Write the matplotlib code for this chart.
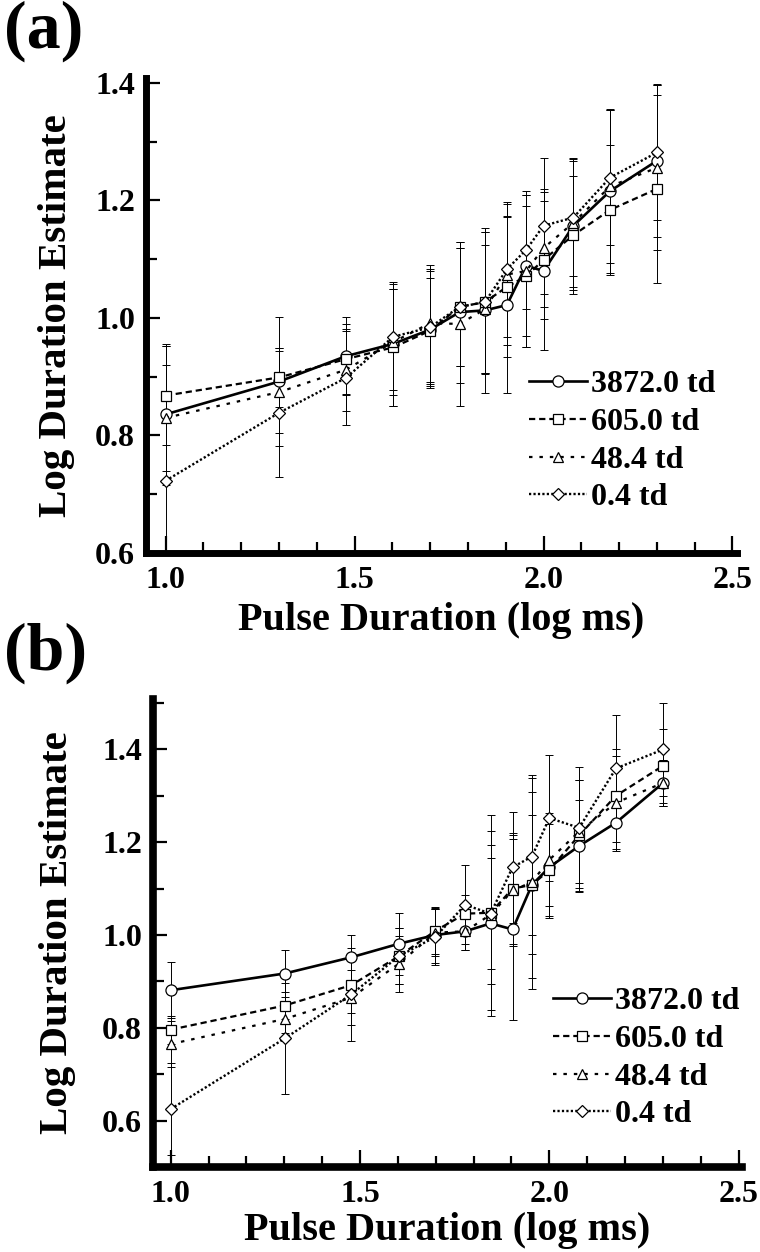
import matplotlib
matplotlib.use("Agg")
import matplotlib.pyplot as plt
from matplotlib.ticker import MultipleLocator, FixedLocator, FormatStrFormatter

# ---------------- data ----------------
x_logms = [1.0, 1.301, 1.477, 1.602, 1.699, 1.778, 1.845, 1.903, 1.954, 2.0, 2.079, 2.176, 2.301]
series_labels = ["3872.0 td", "605.0 td", "48.4 td", "0.4 td"]

# Panel (a)
a_3872 = [0.836, 0.892, 0.935, 0.956, 0.980, 1.010, 1.013, 1.022, 1.089, 1.080, 1.157, 1.216, 1.268]
a_605 = [0.868, 0.899, 0.930, 0.950, 0.978, 1.019, 1.027, 1.053, 1.071, 1.099, 1.141, 1.184, 1.220]
a_48 = [0.830, 0.874, 0.912, 0.959, 0.991, 0.990, 1.015, 1.074, 1.080, 1.119, 1.162, 1.224, 1.256]
a_04 = [0.723, 0.839, 0.898, 0.968, 0.984, 1.019, 1.027, 1.083, 1.116, 1.157, 1.171, 1.239, 1.282]
a_err_3872 = [0.12, 0.11, 0.066, 0.105, 0.10, 0.12, 0.14, 0.15, 0.12, 0.135, 0.11, 0.14, 0.13]
a_err_605 = [0.085, 0.05, 0.06, 0.10, 0.09, 0.10, 0.12, 0.12, 0.12, 0.10, 0.10, 0.11, 0.16]
a_err_48 = [0.09, 0.07, 0.07, 0.09, 0.10, 0.14, 0.11, 0.12, 0.13, 0.10, 0.11, 0.13, 0.14]
a_err_04 = [0.23, 0.11, 0.08, 0.09, 0.10, 0.10, 0.12, 0.115, 0.10, 0.116, 0.10, 0.115, 0.115]

# Panel (b)
b_3872 = [0.881, 0.917, 0.952, 0.981, 1.000, 1.008, 1.025, 1.012, 1.108, 1.146, 1.192, 1.242, 1.328]
b_605 = [0.796, 0.848, 0.892, 0.954, 1.009, 1.046, 1.048, 1.100, 1.108, 1.140, 1.215, 1.300, 1.365]
b_48 = [0.765, 0.819, 0.865, 0.938, 1.005, 1.008, 1.044, 1.096, 1.114, 1.162, 1.223, 1.285, 1.328]
b_04 = [0.625, 0.777, 0.872, 0.954, 0.996, 1.065, 1.046, 1.146, 1.169, 1.252, 1.231, 1.359, 1.400]
b_err_3872 = [0.06, 0.05, 0.048, 0.067, 0.06, 0.04, 0.20, 0.195, 0.20, 0.11, 0.10, 0.06, 0.05]
b_err_605 = [0.03, 0.03, 0.06, 0.06, 0.05, 0.04, 0.21, 0.12, 0.15, 0.10, 0.12, 0.10, 0.08]
b_err_48 = [0.05, 0.03, 0.06, 0.06, 0.05, 0.04, 0.15, 0.12, 0.23, 0.10, 0.11, 0.10, 0.05]
b_err_04 = [0.10, 0.12, 0.10, 0.06, 0.06, 0.085, 0.12, 0.12, 0.17, 0.136, 0.13, 0.115, 0.10]

# ---------------- style ----------------
plt.rcParams['font.family'] = ['Liberation Serif', 'DejaVu Serif']
plt.rcParams['font.weight'] = 'bold'
plt.rcParams['lines.scale_dashes'] = False

W, H = 760, 1252
fig = plt.figure(figsize=(W / 100, H / 100), dpi=100)

styles = [
    dict(marker='o', ms=8.0, ls='-', lw=1.9),
    dict(marker='s', ms=7.0, ls=(0, (4.5, 2.8)), lw=1.6),
    dict(marker='^', ms=7.5, ls=(0, (2.5, 5.0)), lw=1.6),
    dict(marker='D', ms=5.8, ls=(0, (1.6, 1.6)), lw=1.7),
]


def px_axes(l, t, r, b):
    return fig.add_axes([l / W, 1 - b / H, (r - l) / W, (b - t) / H])


def draw_panel(ax, ys, errs, ylim, xlim, legend_xy, letter, letter_xy, ylab_x, xlab_y, spine_w):
    for y, e in zip(ys, errs):
        ax.errorbar(x_logms, y, yerr=e, fmt='none', ecolor='black', elinewidth=0.7,
                    capsize=3, capthick=0.7, zorder=1)
    handles = []
    for y, st, lab in zip(ys, styles, series_labels):
        h, = ax.plot(x_logms, y, color='black', linestyle=st['ls'], linewidth=st['lw'],
                     marker=st['marker'], markersize=st['ms'], markerfacecolor='white',
                     markeredgecolor='black', markeredgewidth=0.9, label=lab, zorder=3)
        handles.append(h)
    ax.set_xlim(*xlim)
    ax.set_ylim(*ylim)
    for s in ['top', 'right']:
        ax.spines[s].set_visible(False)
    for s in ['left', 'bottom']:
        ax.spines[s].set_linewidth(spine_w)
    ax.xaxis.set_major_locator(FixedLocator([1.0, 1.5, 2.0, 2.5]))
    ax.xaxis.set_minor_locator(MultipleLocator(0.1))
    ax.yaxis.set_major_locator(MultipleLocator(0.2))
    ax.yaxis.set_minor_locator(MultipleLocator(0.1))
    ax.xaxis.set_major_formatter(FormatStrFormatter('%.1f'))
    ax.yaxis.set_major_formatter(FormatStrFormatter('%.1f'))
    ax.tick_params(axis='both', which='both', direction='in', width=1.6, labelsize=23)
    ax.tick_params(axis='x', which='major', length=12, pad=9.5)
    ax.tick_params(axis='x', which='minor', length=8)
    ax.tick_params(axis='y', which='major', length=10, pad=8)
    ax.tick_params(axis='y', which='minor', length=8)
    for lab in ax.get_xticklabels() + ax.get_yticklabels():
        lab.set_fontweight('bold')
    ax.set_ylabel('Log Duration Estimate', fontsize=29.5, fontweight='bold')
    ax.set_xlabel('Pulse Duration (log ms)', fontsize=29, fontweight='bold')
    ax.yaxis.set_label_coords(ylab_x, 0.5)
    ax.xaxis.set_label_coords(0.5, xlab_y)
    ax.legend(handles=handles, loc='upper left',
              bbox_to_anchor=(legend_xy[0] / W, 1 - legend_xy[1] / H),
              bbox_transform=fig.transFigure, frameon=False, borderpad=0,
              borderaxespad=0, handlelength=1.8, handletextpad=0.15,
              labelspacing=0.26, prop=dict(size=23, weight='bold'))
    fig.text(letter_xy[0] / W, 1 - letter_xy[1] / H, letter, fontsize=49,
             fontweight='bold', ha='left', va='top')


ax_a = px_axes(146, 78, 737, 553)
draw_panel(ax_a, [a_3872, a_605, a_48, a_04], [a_err_3872, a_err_605, a_err_48, a_err_04],
           ylim=(0.6, 1.4085), xlim=(0.948, 2.512), legend_xy=(529, 370),
           letter='(a)', letter_xy=(4, 0), ylab_x=-0.12, xlab_y=-0.104, spine_w=5.0)

ax_b = px_axes(153, 699, 742, 1167)
draw_panel(ax_b, [b_3872, b_605, b_48, b_04], [b_err_3872, b_err_605, b_err_48, b_err_04],
           ylim=(0.5, 1.5086), xlim=(0.953, 2.509), legend_xy=(553, 987),
           letter='(b)', letter_xy=(4, 622), ylab_x=-0.13, xlab_y=-0.097, spine_w=5.5)

fig.savefig('out.png', dpi=100, facecolor='white')
